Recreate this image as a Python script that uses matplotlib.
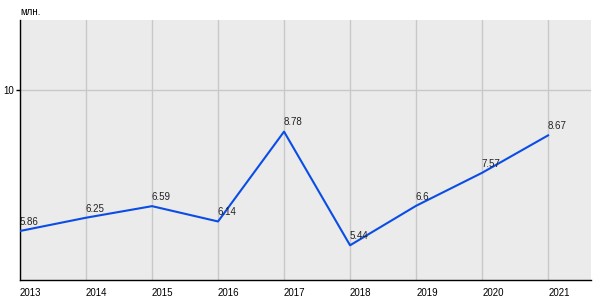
import matplotlib
matplotlib.use("Agg")
import matplotlib.pyplot as plt

years = [2013, 2014, 2015, 2016, 2017, 2018, 2019, 2020, 2021]
values = [5.86, 6.25, 6.59, 6.14, 8.78, 5.44, 6.6, 7.57, 8.67]
value_labels = ["5.86", "6.25", "6.59", "6.14", "8.78", "5.44", "6.6", "7.57", "8.67"]
y_ticks = [10]
unit = "млн."

plt.rcParams["font.family"] = ["Liberation Sans", "DejaVu Sans"]

fig = plt.figure(figsize=(6, 3), dpi=100)
ax = fig.add_axes([20 / 600, 20 / 300, 571 / 600, 260 / 300])
ax.set_facecolor("#ebebeb")

ax.plot(years, values, color="#0a4de6", lw=1.5, zorder=3)
for x, y, s in zip(years, values, value_labels):
    ax.annotate(s, (x, y), textcoords="offset points", xytext=(-0.5, 3),
                ha="left", va="bottom", fontsize=7, color="#222222", zorder=4)

ax.set_xlim(2013, 2021.65)
ax.set_ylim(4.42, 12.06)
ax.set_xticks(years)
ax.set_xticklabels([str(y) for y in years])
ax.set_yticks(y_ticks)
ax.grid(True, color="#c8c8c8", lw=1)
ax.set_axisbelow(True)
ax.tick_params(axis="x", length=0, pad=6, labelsize=7)
ax.tick_params(axis="y", length=3, width=1, pad=1, labelsize=7)
for lbl in ax.get_xticklabels():
    lbl.set_horizontalalignment("left")
ax.spines[["top", "right"]].set_visible(False)
ax.spines["left"].set_linewidth(1)
ax.spines["bottom"].set_linewidth(1)

fig.text(20 / 600, 1 - 12 / 300, unit, fontsize=7, ha="left", va="center")

fig.savefig("out.png", dpi=100)
